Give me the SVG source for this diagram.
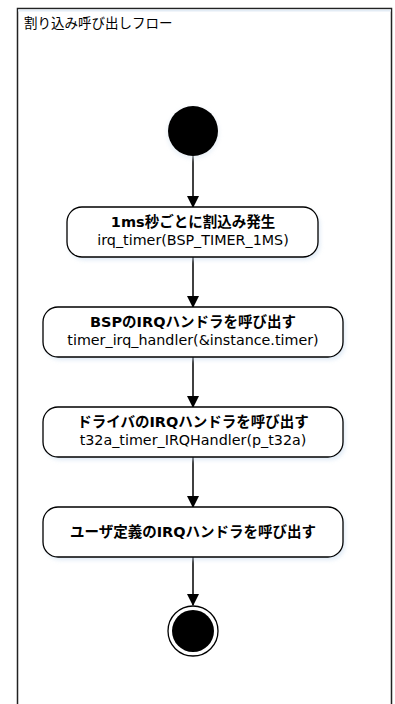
<svg xmlns="http://www.w3.org/2000/svg" width="395" height="704" viewBox="0 0 395 704">
<defs>
<marker id="arr" markerWidth="12" markerHeight="12" refX="11" refY="6" orient="auto" markerUnits="userSpaceOnUse">
<path d="M0,0 L12,6 L0,12 Z" fill="#000"/>
</marker>
<filter id="sh" x="-10%" y="-20%" width="120%" height="150%">
<feGaussianBlur stdDeviation="2"/>
</filter>
<style>
.box{fill:#fff;stroke:#000;stroke-width:1.3}
.shadow{fill:#c9dcef;opacity:0.6;filter:url(#sh)}
.t{font-family:"DejaVu Sans","Noto Sans CJK JP",sans-serif;font-size:14.3px;fill:#000;text-anchor:middle}
.b{font-weight:bold;font-size:14.5px}
.edge{stroke:#000;stroke-width:1.5;fill:none;marker-end:url(#arr)}
</style>
</defs>
<rect width="395" height="704" fill="#fff"/>
<g id="frame">
<rect x="17.5" y="8.5" width="374" height="710" fill="#fff" stroke="#222" stroke-width="1.5"/>
<line x1="18" y1="10.5" x2="391" y2="10.5" stroke="#e3ecf5" stroke-width="2"/>
<text x="24" y="28" font-family="DejaVu Sans,'Noto Sans CJK JP',sans-serif" font-size="13.5" fill="#000">割り込み呼び出しフロー</text>
</g>
<g id="connectors">
<line class="edge" x1="193" y1="156" x2="193" y2="207"/>
<line class="edge" x1="193" y1="257" x2="193" y2="307"/>
<line class="edge" x1="193" y1="357" x2="193" y2="407"/>
<line class="edge" x1="193" y1="457" x2="193" y2="507"/>
<line class="edge" x1="193" y1="557" x2="193" y2="605"/>
</g>
<g id="start">
<circle cx="193" cy="133" r="26" fill="#dde8f3" filter="url(#sh)" opacity="0.6"/>
<circle cx="193" cy="131" r="25" fill="#000"/>
</g>
<g id="node1">
<rect class="shadow" x="69" y="210" width="251" height="50" rx="15"/>
<rect class="box" x="67" y="207" width="251" height="50" rx="15"/>
<text class="t b" x="193" y="227">1ms秒ごとに割込み発生</text>
<text class="t" x="193" y="245">irq_timer(BSP_TIMER_1MS)</text>
</g>
<g id="node2">
<rect class="shadow" x="45" y="310" width="300" height="50" rx="15"/>
<rect class="box" x="43" y="307" width="300" height="50" rx="15"/>
<text class="t b" x="193" y="327">BSPのIRQハンドラを呼び出す</text>
<text class="t" x="193" y="345">timer_irq_handler(&amp;instance.timer)</text>
</g>
<g id="node3">
<rect class="shadow" x="45" y="410" width="300" height="50" rx="15"/>
<rect class="box" x="43" y="407" width="300" height="50" rx="15"/>
<text class="t b" x="193" y="427">ドライバのIRQハンドラを呼び出す</text>
<text class="t" x="193" y="445">t32a_timer_IRQHandler(p_t32a)</text>
</g>
<g id="node4">
<rect class="shadow" x="45" y="510" width="300" height="50" rx="15"/>
<rect class="box" x="43" y="507" width="300" height="50" rx="15"/>
<text class="t b" x="193" y="537">ユーザ定義のIRQハンドラを呼び出す</text>
</g>
<g id="end">
<circle cx="193" cy="631" r="25" fill="#fff" stroke="#000" stroke-width="1.3"/>
<circle cx="193" cy="631" r="21" fill="#000"/>
</g>
</svg>
